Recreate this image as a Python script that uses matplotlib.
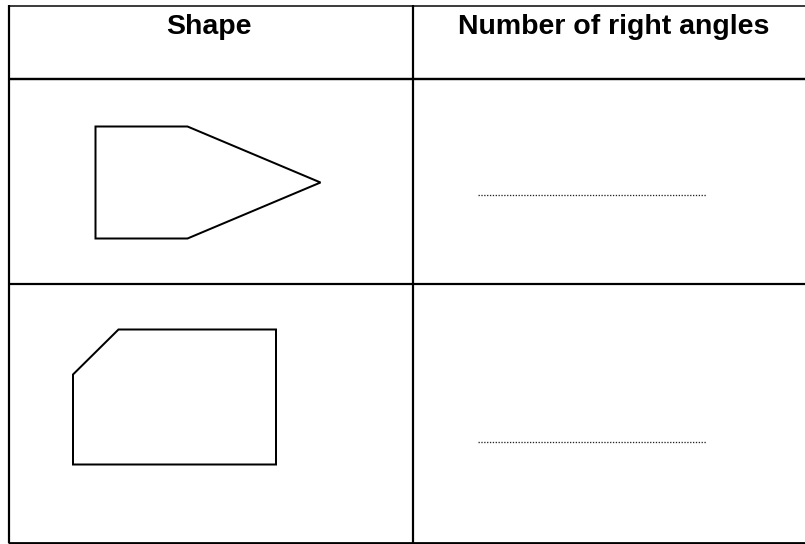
import matplotlib
matplotlib.use("Agg")
import matplotlib.pyplot as plt
from matplotlib.patches import Polygon

# ---- data (pixel coordinates of the worksheet table) ----
headers = ["Shape", "Number of right angles"]
col_edges = [8.5, 413, 819]            # left, divider, right (beyond image)
row_edges = [5.5, 79, 284, 542.5]      # top, header bottom, row 2 bottom, bottom
shape1_x = [95.5, 187.5, 320.5, 187.5, 95.5]
shape1_y = [126.5, 126.5, 182.5, 238.5, 238.5]
shape2_x = [118.5, 276, 276, 73, 73]
shape2_y = [329.5, 329.5, 464.5, 464.5, 374.5]
answer_x = [478, 706]
answer_y = [194.5, 441.5]

W, H = 805, 544
fig = plt.figure(figsize=(W / 100, H / 100), dpi=100)
ax = fig.add_axes([0, 0, 1, 1])
ax.set_xlim(0, W)
ax.set_ylim(H, 0)
ax.axis("off")

px = 72 / 100  # points per pixel

# table frame
ax.plot([col_edges[0], col_edges[2]], [row_edges[0]] * 2, color="black", lw=1.5 * px, solid_capstyle="butt")
ax.plot([col_edges[0], col_edges[2]], [row_edges[1]] * 2, color="black", lw=2.4 * px, solid_capstyle="butt")
ax.plot([col_edges[0], col_edges[2]], [row_edges[2]] * 2, color="black", lw=2.2 * px, solid_capstyle="butt")
ax.plot([col_edges[0] - 1, col_edges[2]], [row_edges[3]] * 2, color="black", lw=2.8 * px, solid_capstyle="butt")
for x in col_edges:
    ax.plot([x, x], [row_edges[0] - 0.5, row_edges[3]], color="black", lw=2.2 * px, solid_capstyle="butt")

# headers
for i, h in enumerate(headers):
    cx = (col_edges[i] + col_edges[i + 1]) / 2 - 2
    ax.text(cx, 33.5, h, ha="center", va="baseline", fontsize=20.5,
            fontweight="bold", family="Liberation Sans", color="black")

# shapes
for sx, sy in [(shape1_x, shape1_y), (shape2_x, shape2_y)]:
    ax.add_patch(Polygon(list(zip(sx, sy)), closed=True, fill=False,
                         edgecolor="black", lw=2.0 * px, joinstyle="miter"))

# dotted answer lines
for y in answer_y:
    ax.plot(answer_x, [y, y], color="#222222", lw=1.3 * px, linestyle=(0, (1, 1.2)))

fig.savefig("out.png", dpi=100, facecolor="white")
